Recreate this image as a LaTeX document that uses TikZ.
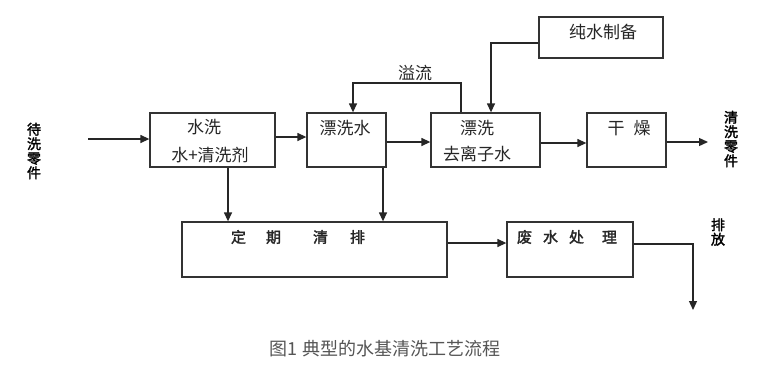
\documentclass[tikz,border=0pt]{standalone}
\usepackage{fontspec}
\setmainfont{Noto Sans CJK SC}[AutoFakeBold=2]
\usetikzlibrary{arrows.meta}
\definecolor{capgray}{HTML}{555555}
\begin{document}
\begin{tikzpicture}[x=1pt,y=-1pt,
  box/.style={draw=black!80,line width=1.3pt,rectangle,inner sep=0pt},
  txt/.style={inner sep=0pt,font=\fontsize{17}{17}\selectfont,text=black!85},
  vlab/.style={inner sep=0pt,align=center,font=\fontsize{14}{14.5}\selectfont\bfseries},
  conn/.style={draw=black!85,line width=1.3pt},
  arr/.style={conn,-{Triangle[length=9pt,width=8pt]}}]
\fill[white] (0,0) rectangle (757,375);
\useasboundingbox (0,0) rectangle (757,375);
% boxes
\node[box,minimum width=125pt,minimum height=54pt] (A) at (212.5,140) {};
\node[box,minimum width=79pt,minimum height=54pt] (B) at (346.5,140) {};
\node[box,minimum width=109pt,minimum height=54pt] (C) at (485.5,140) {};
\node[box,minimum width=79pt,minimum height=54pt] (D) at (626.5,140) {};
\node[box,minimum width=124pt,minimum height=41pt] (E) at (601,37.5) {};
\node[box,minimum width=265pt,minimum height=55pt] (F) at (314.5,249.5) {};
\node[box,minimum width=126pt,minimum height=55pt] (G) at (570,249.5) {};
% texts
\node[txt] (a1) at (204,127) {水洗};
\node[txt] (a2) at (210,155) {水+清洗剂};
\node[txt] (b1) at (345,128) {漂洗水};
\node[txt] (c1) at (477,128) {漂洗};
\node[txt] (c2) at (477,154) {去离子水};
\node[txt] (d1) at (629,128) {干\hspace{9pt}燥};
\node[txt] (e1) at (603,32) {纯水制备};
\node[txt,font=\fontsize{15}{15}\selectfont\bfseries] (f1) at (298,237) {定\hspace{20pt}期\hspace{32pt}清\hspace{22pt}排};
\node[txt,font=\fontsize{15}{15}\selectfont\bfseries] (g1) at (567,237) {废\hspace{11pt}水\hspace{11pt}处\hspace{18pt}理};
\node[txt] (ov) at (415,73) {溢流};
% side labels
\node[vlab] (inl) at (34,151) {待\\洗\\零\\件};
\node[vlab] (outl) at (731,139) {清\\洗\\零\\件};
\node[vlab] (dis) at (718,232) {排\\放};
% caption
\node[inner sep=0pt,font=\fontsize{18}{18}\selectfont,text=capgray] (cap) at (385,349) {图1 典型的水基清洗工艺流程};
% connectors
\coordinate (inS) at (88,139);
\draw[arr] (inS) -- (inS -| A.west);
\draw[arr] (A.east |- 0,137) -- (B.west |- 0,137);
\draw[arr] (B.east |- 0,142) -- (C.west |- 0,142);
\draw[arr] (C.east |- 0,143) -- (D.west |- 0,143);
\coordinate (outE) at (708,142);
\draw[arr] (D.east |- outE) -- (outE);
\draw[arr] (C.north -| 461,0) -- (461,83) -- (353,83) -- (B.north -| 353,0);
\draw[arr] (E.west |- 0,43) -- (491,43) -- (C.north -| 491,0);
\draw[arr] (A.south -| 228,0) -- (F.north -| 228,0);
\draw[arr] (B.south -| 383,0) -- (F.north -| 383,0);
\draw[arr] (F.east |- 0,243) -- (G.west |- 0,243);
\coordinate (disE) at (693,310);
\draw[arr] (G.east |- 0,244) -- (693,244) -- (disE);
\end{tikzpicture}
\end{document}
